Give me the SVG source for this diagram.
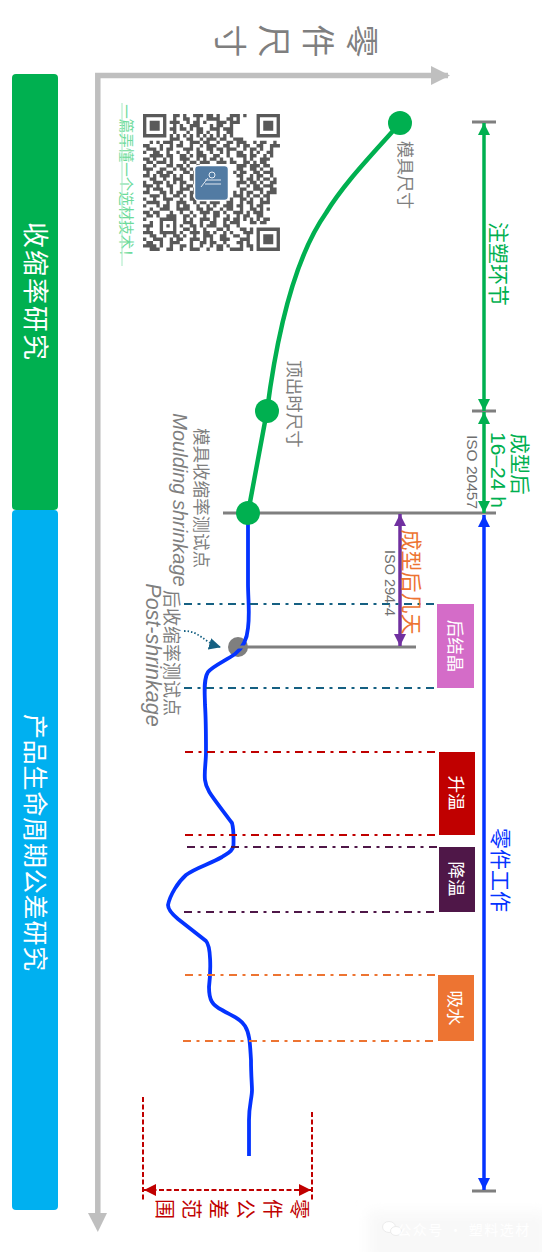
<svg xmlns="http://www.w3.org/2000/svg" width="542" height="1252" viewBox="0 0 542 1252">
<style>
text{font-family:"Noto Sans CJK SC","Liberation Sans",sans-serif;text-anchor:middle;dominant-baseline:central}
.lat{font-family:"Liberation Sans","Noto Sans CJK SC",sans-serif}
.g{fill:#7f7f7f}
.w{fill:#fff}
.dd{fill:none;stroke-width:1.8;stroke-dasharray:8 5.5 3 5.5}
.tick{stroke:#7f7f7f;stroke-width:3;fill:none}
.dim{fill:none;stroke-width:3.5}
</style>
<defs>
<marker id="agr" viewBox="0 0 12 12" refX="12" refY="6" markerUnits="userSpaceOnUse" markerWidth="12" markerHeight="12" orient="auto-start-reverse"><path d="M0 0L12 6L0 12z" fill="#00b050"/></marker>
<marker id="abl" viewBox="0 0 12 12" refX="12" refY="6" markerUnits="userSpaceOnUse" markerWidth="12" markerHeight="12" orient="auto-start-reverse"><path d="M0 0L12 6L0 12z" fill="#0433ff"/></marker>
<marker id="apu" viewBox="0 0 12 12" refX="12" refY="6" markerUnits="userSpaceOnUse" markerWidth="12" markerHeight="12" orient="auto-start-reverse"><path d="M0 0L12 6L0 12z" fill="#7030a0"/></marker>
<marker id="are" viewBox="0 0 12 12" refX="12" refY="6" markerUnits="userSpaceOnUse" markerWidth="12" markerHeight="12" orient="auto-start-reverse"><path d="M0 0L12 6L0 12z" fill="#c00000"/></marker>
<marker id="ate" viewBox="0 0 12 12" refX="11" refY="6" markerUnits="userSpaceOnUse" markerWidth="12" markerHeight="12" orient="auto"><path d="M0 0L12 6L0 12z" fill="#156082"/></marker>
<filter id="soft" x="-20%" y="-40%" width="140%" height="180%"><feGaussianBlur stdDeviation="7"/></filter>
</defs>
<rect width="542" height="1252" fill="#fff"/>
<g id="watermark">
<rect x="368" y="1212" width="180" height="50" fill="#f8f8f8" filter="url(#soft)"/>
<ellipse cx="389" cy="1227" rx="6.500" ry="5.500" fill="#fff" stroke="#ececec"/>
<ellipse cx="396" cy="1231" rx="5.500" ry="4.500" fill="#fff" stroke="#ececec"/>
<text x="464" y="1229" font-size="14" fill="#fff" letter-spacing="1.500">公众号 · 塑料选材</text>
</g>
<g id="axes">
<path d="M448 75.500H97.800V1214" fill="none" stroke="#bfbfbf" stroke-width="5.500"/>
<path d="M431 66L450 75.500L431 85z" fill="#bfbfbf"/>
<path d="M88 1213L97.800 1232L107 1213z" fill="#bfbfbf"/>
<text transform="translate(0,41) rotate(90)" y="-364 -320 -276 -232" x="0 0 0 0" font-size="33" class="g">零件尺寸</text>
</g>
<g id="bar-shrinkage">
<rect x="12" y="74" width="46" height="436" rx="4" fill="#00b050"/>
<text transform="translate(37,292) rotate(90)" font-size="26" class="w" letter-spacing="2">收缩率研究</text>
</g>
<g id="bar-lifecycle">
<rect x="12" y="510" width="46" height="700" rx="4" fill="#00b0f0"/>
<text transform="translate(37,843) rotate(90)" font-size="25" class="w" letter-spacing="0.800">产品生命周期公差研究</text>
</g>
<g id="qr">
<text transform="translate(127.500,184) rotate(90)" font-size="14.500" fill="#6edb9b">一篇弄懂一个选材技术！</text>
<path d="M122 103V266" stroke="#a5eac3" stroke-width="1"/>
<g transform="translate(143,114) scale(3.34)">
<path fill="none" stroke="#595959" stroke-width="1" d="M0 .5h7m2 0h2m1 0h1m2 0h3m1 0h2m1 0h1m3 0h3m1 0h1M34 .5h7
M0 1.500h1m5 0h1m2 0h1m2 0h2m2 0h1m2 0h4m2 0h2m1 0h1M34 1.500h1m5 0h1
M0 2.500h1m1 0h3m1 0h1m1 0h3m2 0h1m1 0h2m1 0h1m3 0h3m1 0h3M34 2.500h1m1 0h3m1 0h1
M0 3.500h1m1 0h3m1 0h1m2 0h1m1 0h1m2 0h3m3 0h1m1 0h2m2 0h1M34 3.500h1m1 0h3m1 0h1
M0 4.500h1m1 0h3m1 0h1m1 0h2m1 0h2m1 0h1m1 0h2m2 0h3m1 0h3M34 4.500h1m1 0h3m1 0h1
M0 5.500h1m5 0h1m2 0h1m3 0h1m2 0h2m1 0h1m2 0h1m2 0h2M34 5.500h1m5 0h1
M0 6.500h7m1 0h1m1 0h1m1 0h1m1 0h1m1 0h1m1 0h1m1 0h1m1 0h1m1 0h1m1 0h1M34 6.500h7
M8 7.500h3m2 0h2m2 0h1m1 0h3m1 0h2m2 0h3
M2 8.500h1m1 0h1m1 0h3m2 0h1m2 0h3m1 0h2m2 0h1m2 0h2m1 0h3m2 0h1m1 0h2m2 0h1
M0 9.500h2m3 0h1m2 0h1m1 0h2m2 0h1m2 0h1m1 0h3m2 0h2m2 0h1m1 0h2m2 0h2m2 0h3
M1 10.500h3m1 0h1m1 0h2m3 0h3m1 0h1m2 0h2m1 0h2m1 0h3m2 0h1m1 0h2m1 0h1m2 0h1
M0 11.500h1m2 0h2m2 0h1m2 0h1m2 0h1m2 0h2m2 0h1m2 0h1m1 0h1m2 0h2m2 0h1m1 0h1m2 0h2
M2 12.500h4m1 0h2m2 0h2m1 0h1m1 0h3m2 0h2m2 0h1m2 0h3m1 0h2m2 0h1m1 0h1
M0 13.500h2m1 0h1m2 0h1m1 0h1m2 0h3m2 0h1m1 0h1m1 0h2m1 0h1m2 0h1m3 0h1m1 0h1m2 0h3
M1 14.500h2m1 0h3m1 0h1m3 0h1m1 0h2m1 0h3m2 0h3m1 0h2m2 0h2m1 0h1m1 0h2
M0 15.500h1m2 0h1m3 0h2m1 0h2m1 0h1m2 0h1m11 0h3m1 0h3m1 0h2
M0 16.500h3m2 0h2m2 0h1m1 0h2m1 0h1m13 0h2m2 0h2m1 0h1m2 0h1
M1 17.500h1m2 0h2m1 0h2m3 0h2m1 0h1m11 0h1m1 0h2m2 0h2m1 0h3
M0 18.500h2m1 0h1m1 0h3m1 0h1m1 0h1m2 0h2m12 0h2m2 0h1m1 0h2m2 0h1
M2 19.500h2m2 0h1m2 0h3m2 0h2m13 0h1m1 0h2m1 0h1m1 0h2m1 0h1
M0 20.500h1m2 0h3m1 0h1m1 0h1m1 0h2m2 0h1m12 0h3m1 0h2m1 0h1m2 0h2
M0 21.500h3m1 0h1m2 0h2m2 0h1m1 0h2m13 0h1m2 0h1m1 0h2m1 0h3
M1 22.500h1m1 0h3m2 0h1m2 0h3m1 0h1m13 0h2m2 0h3m2 0h2
M0 23.500h2m3 0h2m1 0h1m1 0h2m2 0h2m11 0h1m1 0h1m1 0h2m2 0h1m1 0h3
M2 24.500h3m1 0h1m2 0h2m1 0h1m1 0h1m1 0h2m1 0h3m2 0h1m2 0h3m1 0h1m1 0h2m1 0h2
M0 25.500h1m2 0h1m2 0h3m2 0h1m2 0h2m2 0h1m2 0h1m1 0h2m1 0h1m2 0h2m1 0h1m2 0h1m1 0h1
M1 26.500h4m2 0h1m2 0h3m2 0h1m1 0h2m1 0h3m2 0h2m2 0h1m1 0h2m2 0h3
M0 27.500h1m3 0h1m1 0h2m2 0h1m1 0h2m2 0h1m2 0h1m1 0h1m2 0h3m1 0h2m2 0h1m1 0h2
M2 28.500h1m2 0h3m2 0h4m2 0h2m1 0h2m2 0h1m1 0h2m2 0h1m2 0h2m1 0h1m1 0h1
M0 29.500h2m1 0h2m3 0h1m2 0h1m2 0h1m2 0h3m1 0h2m1 0h1m2 0h3m1 0h1m1 0h3
M1 30.500h2m1 0h1m2 0h3m2 0h2m1 0h1m2 0h1m2 0h2m2 0h1m2 0h1m1 0h2m2 0h2
M0 31.500h1m4 0h5m2 0h1m1 0h1m2 0h3m1 0h1m2 0h2m1 0h2m1 0h1m1 0h1m1 0h1m1 0h2
M2 32.500h1m2 0h1m3 0h1m2 0h3m2 0h1m2 0h2m2 0h1m1 0h3m3 0h2m1 0h2
M0 33.500h3m2 0h1m1 0h1m1 0h1m1 0h1m2 0h2m1 0h1m1 0h3m2 0h2m2 0h1
M1 34.500h1m3 0h1m3 0h1m2 0h2m1 0h1m2 0h1m3 0h2m1 0h1M29 34.500h2m1 0h1M34 34.500h7
M0 35.500h3m2 0h5m1 0h1m2 0h3m1 0h2m1 0h1m2 0h1m1 0h1M30 35.500h3M34 35.500h1m5 0h1
M2 36.500h2m2 0h1m2 0h2m1 0h1m2 0h1m2 0h3m2 0h2m2 0h1M28 36.500h1m2 0h1M34 36.500h1m1 0h3m1 0h1
M0 37.500h1m2 0h3m2 0h1m1 0h2m2 0h3m1 0h1m1 0h1m2 0h3M29 37.500h3M34 37.500h1m1 0h3m1 0h1
M1 38.500h2m2 0h1m2 0h3m3 0h1m2 0h2m1 0h2m2 0h1M28 38.500h2m1 0h1M34 38.500h1m1 0h3m1 0h1
M0 39.500h4m1 0h1m2 0h1m2 0h2m1 0h1m2 0h1m2 0h1m1 0h2m1 0h1M29 39.500h1m1 0h2M34 39.500h1m5 0h1
M2 40.500h3m2 0h2m2 0h1m2 0h3m2 0h1m2 0h2m2 0h2M28 40.500h2m2 0h1M34 40.500h7"/>
</g>
<rect x="194.500" y="165.500" width="34" height="35" rx="4" fill="#527ba3" stroke="#fff" stroke-width="1.500"/>
<circle cx="212" cy="175" r="3" fill="none" stroke="#e8eef5" stroke-width="1"/>
<path d="M208 178L201 187M205 180h16M205 184h16" fill="none" stroke="#dfe7f0" stroke-width="1"/>
</g>
<g id="point-post"><circle cx="238" cy="647" r="10" fill="#7f7f7f"/>
<text transform="translate(173,653) rotate(90)" font-size="18" class="g">后收缩率测试点</text>
<text transform="translate(153,655) rotate(90)" font-size="21.500" class="g lat" font-style="italic">Post-shrinkage</text></g>
<g id="connectors">
<path d="M400 123C372 155 345 182 326 213C300 250 280 310 267 411L248 513" fill="none" stroke="#00b050" stroke-width="4.500"/>
<path d="M248 513C248 540 248 560 248 583C248 600 250 612 248 628C247 640 243 648 235 654C225 661 213 666 208 672C203 680 205 695 205 705C206 720 206 740 206 752C206 762 204 772 205 780C206 790 212 796 232 823C234 830 233.500 838 233.500 845C233 851 228 853 222 857C210 864 195 868 186 875C178 882 170 895 168 905C168 910 172 914 178 919L206 941C211 946 211 970 209 987C209 1000 212 1005 222 1010C232 1016 240 1018 245 1026C250 1034 250 1045 251 1060C251 1075 252 1085 252 1090C252 1098 249 1105 249 1120L249 1156" fill="none" stroke="#0433ff" stroke-width="3.800"/>
<path d="M223 513H496" class="tick"/>
<path d="M238 647H416" class="tick"/>
<path d="M472 122H496M472 411H496M472 1191H496" class="tick"/>
<path d="M484 123V411" class="dim" stroke="#00b050" marker-start="url(#agr)" marker-end="url(#agr)"/>
<path d="M484 412V513" class="dim" stroke="#00b050" marker-start="url(#agr)" marker-end="url(#agr)"/>
<path d="M484 515V1190" class="dim" stroke="#0433ff" marker-start="url(#abl)" marker-end="url(#abl)"/>
<path d="M400 514V646" class="dim" stroke="#7030a0" marker-start="url(#apu)" marker-end="url(#apu)"/>
<path d="M143 1097V1201M312 1112V1201" fill="none" stroke="#c00000" stroke-width="2" stroke-dasharray="5 2.500"/>
<path d="M144 1190H311" fill="none" stroke="#c00000" stroke-width="2" stroke-dasharray="5 2.500" marker-start="url(#are)" marker-end="url(#are)"/>
<path d="M184 604H437M184 688H437" class="dd" stroke="#156082"/>
<path d="M185 752H437M185 835H437" class="dd" stroke="#c00000"/>
<path d="M187 847H438M184 912H435" class="dd" stroke="#4f1748"/>
<path d="M185 975H436M183 1041H434" class="dd" stroke="#ed7432"/>
<path d="M184 631C200 631 203 642 220 647" fill="none" stroke="#156082" stroke-width="1.800" stroke-dasharray="1.500 2" marker-end="url(#ate)"/>
</g>
<g id="point-mould"><circle cx="400" cy="123" r="12" fill="#00b050"/><text transform="translate(406,175) rotate(90)" font-size="17" class="g">模具尺寸</text></g>
<g id="point-eject"><circle cx="267" cy="411" r="12" fill="#00b050"/><text transform="translate(295,404) rotate(90)" font-size="17.500" class="g">顶出时尺寸</text></g>
<g id="point-shrink"><circle cx="248" cy="513" r="12" fill="#00b050"/>
<text transform="translate(202,498) rotate(90)" font-size="17.500" class="g">模具收缩率测试点</text>
<text transform="translate(180,500) rotate(90)" font-size="20" class="g lat" font-style="italic">Moulding shrinkage</text></g>
<g id="label-molding"><text transform="translate(500,264) rotate(90)" font-size="21" fill="#00b050">注塑环节</text></g>
<g id="label-after"><text transform="translate(521,464) rotate(90)" font-size="20.500" fill="#00b050">成型后</text>
<text transform="translate(498,470) rotate(90)" font-size="21" fill="#00b050" class="lat">16–24 h</text>
<text transform="translate(472,472) rotate(90)" font-size="15.500" fill="#6f6f6f" class="lat">ISO 20457</text></g>
<g id="label-days"><text transform="translate(413,582) rotate(90)" font-size="21" fill="#ed7432">成型后几天</text>
<text transform="translate(390,583) rotate(90)" font-size="14.500" fill="#6f6f6f" class="lat">ISO 294-4</text></g>
<g id="box-crystal"><rect x="437" y="604" width="37" height="84" fill="#d46cc8"/><text transform="translate(456,646) rotate(90)" font-size="17.500" class="w">后结晶</text></g>
<g id="box-heat"><rect x="439" y="752" width="36" height="83" fill="#c00000"/><text transform="translate(457,793) rotate(90)" font-size="17.500" class="w">升温</text></g>
<g id="box-cool"><rect x="439" y="847" width="36" height="65" fill="#4f1748"/><text transform="translate(457,879) rotate(90)" font-size="17.500" class="w">降温</text></g>
<g id="box-water"><rect x="438" y="975" width="36" height="66" fill="#ed7432"/><text transform="translate(456,1008) rotate(90)" font-size="17.500" class="w">吸水</text></g>
<g id="label-service"><text transform="translate(501.500,870) rotate(90)" font-size="21" fill="#0433ff">零件工作</text></g>
<g id="label-tolerance"><text transform="translate(0,1209) rotate(90)" x="0 0 0 0 0 0" y="-300 -273 -246 -219 -192 -165" font-size="20" fill="#c00000">零件公差范围</text></g>
</svg>
